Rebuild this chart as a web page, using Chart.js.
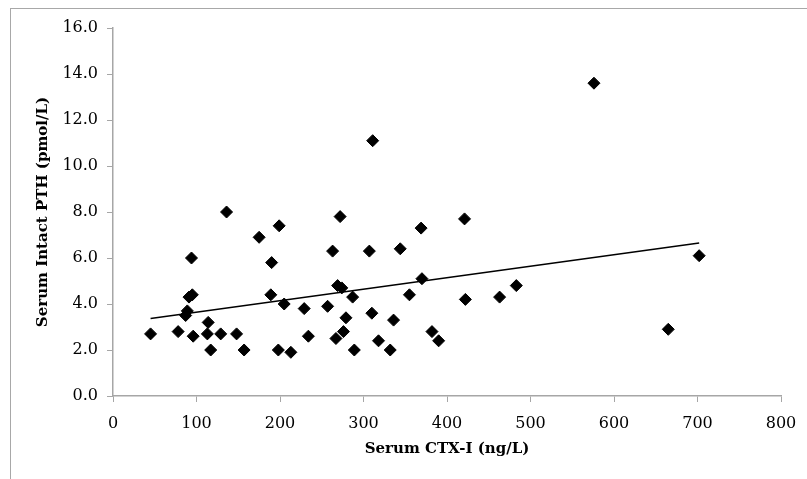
<!DOCTYPE html>
<html>
<head>
<meta charset="utf-8">
<title>Serum CTX-I vs Intact PTH</title>
<script src="https://cdn.jsdelivr.net/npm/chart.js@4"></script>
<style>
    html, body { margin: 0; padding: 0; background: #fff; overflow: hidden; }
    #wrap { position: relative; width: 807px; height: 479px; }
    #frame {
        position: absolute; left: 10px; top: 8px; width: 820px; height: 490px;
        border-left: 1px solid #a8a8a8; border-top: 1px solid #a8a8a8;
    }
    #chart { position: absolute; left: 0; top: 0; }
</style>
</head>
<body>
<div id="wrap">
    <div id="frame"></div>
    <canvas id="chart" width="807" height="479"></canvas>
</div>
<script>
// Valores (x = CTX-I em ng/L, y = PTH em pmol/L)
const ctxValues = [45, 78, 87, 89, 91, 95, 94, 96, 114, 113, 117, 129, 148, 157, 136, 175, 190, 189,
    199, 198, 205, 213, 229, 234, 257, 263, 267, 269, 272, 274, 276, 279, 287, 289, 307, 310,
    311, 318, 332, 336, 344, 355, 369, 370, 382, 390, 421, 422, 463, 483, 576, 665, 702];
const pthValues = [2.7, 2.8, 3.5, 3.7, 4.3, 4.4, 6.0, 2.6, 3.2, 2.7, 2.0, 2.7, 2.7, 2.0, 8.0, 6.9, 5.8, 4.4,
    7.4, 2.0, 4.0, 1.9, 3.8, 2.6, 3.9, 6.3, 2.5, 4.8, 7.8, 4.7, 2.8, 3.4, 4.3, 2.0, 6.3, 3.6,
    11.1, 2.4, 2.0, 3.3, 6.4, 4.4, 7.3, 5.1, 2.8, 2.4, 7.7, 4.2, 4.3, 4.8, 13.6, 2.9, 6.1];

// Linha de tendência (extremos)
const trendX = [45, 702];
const trendY = [3.37, 6.65];

const X_TITLE = 'Serum CTX-I (ng/L)';
const Y_TITLE = 'Serum Intact PTH (pmol/L)';
const FONT = '"DejaVu Serif", "Liberation Serif", serif';
const AXIS_GREY = '#a6a6a6';

function toPoints(xs, ys) {
    return xs.map((x, i) => ({ x: x, y: ys[i] }));
}

function drawChart() {
    const canvas = document.getElementById('chart');
    new Chart(canvas.getContext('2d'), {
        type: 'scatter',
        data: {
            datasets: [
                {
                    label: 'PTH',
                    data: toPoints(ctxValues, pthValues),
                    pointStyle: 'rectRot',
                    pointRadius: 6,
                    backgroundColor: '#000',
                    borderColor: '#000',
                    borderWidth: 1
                },
                {
                    label: 'Trend',
                    type: 'line',
                    data: toPoints(trendX, trendY),
                    borderColor: '#000',
                    borderWidth: 1.5,
                    pointRadius: 0,
                    fill: false
                }
            ]
        },
        options: {
            responsive: false,
            animation: false,
            layout: { padding: { left: 30, top: 28, right: 26, bottom: 17 } },
            plugins: {
                legend: { display: false },
                tooltip: { enabled: false }
            },
            scales: {
                x: {
                    type: 'linear',
                    min: 0,
                    max: 800,
                    ticks: { stepSize: 100, color: '#000', padding: 12, font: { family: FONT, size: 16 } },
                    grid: { drawOnChartArea: false, drawTicks: true, tickLength: 6, color: AXIS_GREY },
                    border: { color: AXIS_GREY, width: 1.5 },
                    title: {
                        display: true, text: X_TITLE, color: '#000',
                        font: { family: FONT, size: 15, weight: 'bold' },
                        padding: { top: 4 }
                    },
                    afterFit: scale => {
                        scale.height = 66;
                        scale.paddingLeft = 0;
                        scale.paddingRight = 0;
                    }
                },
                y: {
                    min: 0,
                    max: 16,
                    ticks: {
                        stepSize: 2, color: '#000', padding: 9,
                        font: { family: FONT, size: 16 },
                        callback: v => v.toFixed(1)
                    },
                    grid: { drawOnChartArea: false, drawTicks: true, tickLength: 6, color: AXIS_GREY },
                    border: { color: AXIS_GREY, width: 1.5 },
                    title: {
                        display: true, text: Y_TITLE, color: '#000',
                        font: { family: FONT, size: 15, weight: 'bold' },
                        padding: { top: 4 }
                    },
                    afterFit: scale => { scale.width = 83; }
                }
            }
        }
    });
}

document.addEventListener('DOMContentLoaded', drawChart);
</script>
</body>
</html>
